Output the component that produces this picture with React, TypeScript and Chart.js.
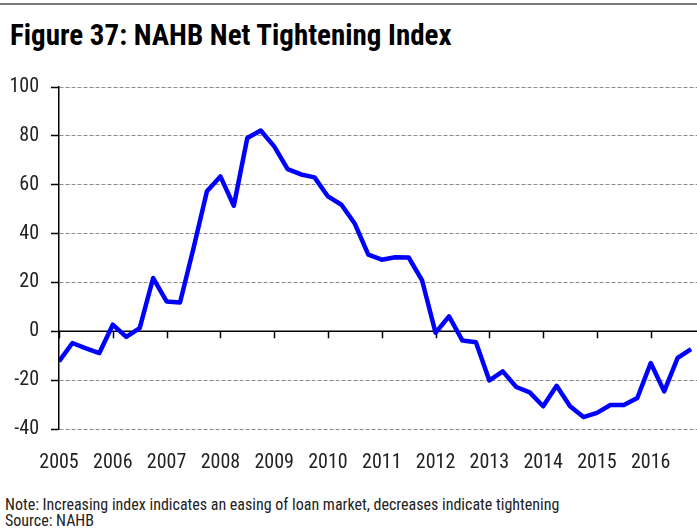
import React, { useEffect, useRef } from "react";
import { Chart, registerables } from "chart.js";

Chart.register(...registerables);

const quarters: number[] = [
  2005, 2005.25, 2005.5, 2005.75, 2006, 2006.25, 2006.5, 2006.75,
  2007, 2007.25, 2007.5, 2007.75, 2008, 2008.25, 2008.5, 2008.75,
  2009, 2009.25, 2009.5, 2009.75, 2010, 2010.25, 2010.5, 2010.75,
  2011, 2011.25, 2011.5, 2011.75, 2012, 2012.25, 2012.5, 2012.75,
  2013, 2013.25, 2013.5, 2013.75, 2014, 2014.25, 2014.5, 2014.75,
  2015, 2015.25, 2015.5, 2015.75, 2016, 2016.25, 2016.5, 2016.75,
];

const netTightening: number[] = [
  -12.3, -4.8, -7.0, -8.9, 2.7, -2.3, 1.3, 21.8,
  12.2, 11.8, 34.0, 57.3, 63.4, 51.4, 79.1, 82.2,
  75.7, 66.4, 64.2, 63.0, 55.2, 51.8, 44.0, 31.4,
  29.3, 30.3, 30.2, 20.8, -0.6, 6.1, -3.8, -4.5,
  -20.1, -16.4, -22.8, -25.0, -30.7, -22.3, -30.7, -35.1,
  -33.4, -30.2, -30.2, -27.3, -13.0, -24.6, -10.9, -7.3,
];

const yearTicks: number[] = [2005, 2006, 2007, 2008, 2009, 2010, 2011, 2012, 2013, 2014, 2015, 2016];

const FONT = "Roboto, sans-serif";

const zeroLinePlugin = {
  id: "zeroLine",
  beforeDatasetsDraw(chart: any) {
    const { ctx, chartArea, scales } = chart;
    const y0 = scales.y.getPixelForValue(0);
    ctx.save();
    ctx.strokeStyle = "#000";
    ctx.lineWidth = 1.5;
    ctx.beginPath();
    ctx.moveTo(chartArea.left, y0);
    ctx.lineTo(chartArea.right, y0);
    scales.x.ticks.forEach((t: any) => {
      const x = Math.round(scales.x.getPixelForValue(t.value)) + 0.5;
      ctx.moveTo(x, y0);
      ctx.lineTo(x, y0 + 7);
    });
    ctx.stroke();
    ctx.restore();
  },
};

export default function App() {
  const ref = useRef<HTMLCanvasElement | null>(null);

  useEffect(() => {
    if (!ref.current) return;
    const chart = new Chart(ref.current, {
      type: "line",
      data: {
        datasets: [
          {
            data: quarters.map((q, i) => ({ x: q, y: netTightening[i] })),
            borderColor: "#0000ff",
            borderWidth: 4.5,
            pointRadius: 0,
            tension: 0,
            borderJoinStyle: "round",
            fill: false,
          },
        ],
      },
      options: {
        animation: false,
        responsive: false,
        maintainAspectRatio: false,
        layout: { padding: { top: 10, right: 0, bottom: 0, left: 0 } },
        plugins: { legend: { display: false }, tooltip: { enabled: false }, title: { display: false } },
        scales: {
          x: {
            type: "linear",
            min: 2005,
            max: 2016.86,
            afterBuildTicks: (scale: any) => {
              scale.ticks = yearTicks.map((v) => ({ value: v }));
            },
            afterFit: (scale: any) => {
              scale.height = 51;
            },
            ticks: {
              callback: (v: any) => String(v),
              font: { family: FONT, size: 20, weight: "condensed" as any },
              color: "#222",
              padding: 22,
              maxRotation: 0,
              autoSkip: false,
            },
            grid: { display: false, drawTicks: false },
            border: { display: false },
          },
          y: {
            min: -40,
            max: 100,
            afterFit: (scale: any) => {
              scale.width = 59;
            },
            ticks: {
              stepSize: 20,
              font: { family: FONT, size: 20, weight: "condensed" as any },
              color: "#222",
              padding: 12,
            },
            grid: {
              color: "#8c8c8c",
              lineWidth: 1,
              tickLength: 8,
              tickColor: "#000",
              tickWidth: 1.5,
            },
            border: { display: true, color: "#000", width: 1.5, dash: [4, 2] },
          },
        },
      },
      plugins: [zeroLinePlugin],
    });
    return () => chart.destroy();
  }, []);

  return (
    <div style={{ position: "absolute", left: 0, top: 0, width: 697, height: 529, background: "#fff", overflow: "hidden" }}>
      <div style={{ position: "absolute", left: 0, top: 3, width: 697, height: 2, background: "#7a7a7a" }} />
      <div
        style={{
          position: "absolute",
          left: 10,
          top: 17,
          fontFamily: FONT,
          fontWeight: "bold",
          fontStretch: "75%",
          fontSize: 29,
          color: "#000",
          whiteSpace: "nowrap",
          lineHeight: "36px",
        }}
      >
        Figure 37: NAHB Net Tightening Index
      </div>
      <canvas ref={ref} width={697} height={417} style={{ position: "absolute", left: 0, top: 63, width: 697, height: 417 }} />
      <div
        style={{
          position: "absolute",
          left: 5,
          top: 497,
          fontFamily: FONT,
          fontStretch: "75%",
          fontSize: 16,
          color: "#222",
          lineHeight: "16px",
          whiteSpace: "nowrap",
        }}
      >
        <div>Note: Increasing index indicates an easing of loan market, decreases indicate tightening</div>
        <div>Source: NAHB</div>
      </div>
    </div>
  );
}
